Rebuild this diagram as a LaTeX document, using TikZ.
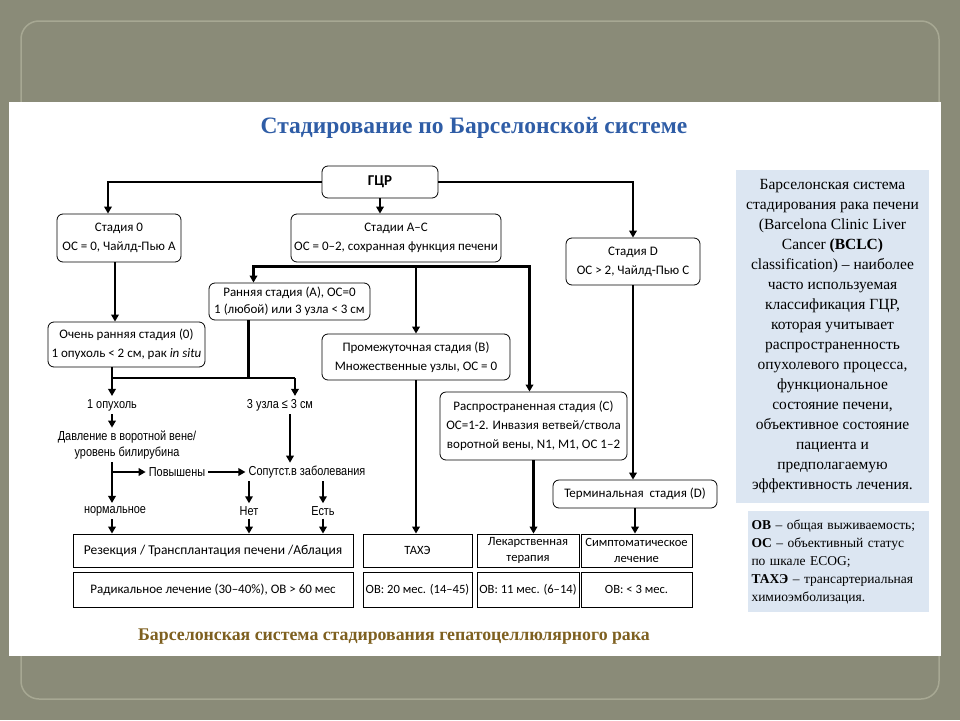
\documentclass[tikz,border=0pt]{standalone}
\usepackage{fontspec}
\setmainfont{Liberation Serif}
\newfontfamily\calibri{Carlito}
\newfontfamily\narrowsans[FakeStretch=0.84]{Liberation Sans}
\usetikzlibrary{arrows.meta,positioning}
\definecolor{slidebg}{HTML}{8A8B78}
\definecolor{slideframe}{HTML}{A7A893}
\definecolor{titleblue}{HTML}{2F5DA6}
\definecolor{captionbrown}{HTML}{7E6020}
\definecolor{panelblue}{HTML}{DCE6F2}

\tikzset{
  stage/.style={draw, rounded corners=6pt, line width=0.8pt, fill=white, align=center,
    font=\calibri\fontsize{13}{19}\selectfont, inner sep=2pt},
  result/.style={draw, line width=0.8pt, fill=white, align=center,
    font=\calibri\fontsize{12.6}{16}\selectfont, inner sep=1pt, minimum height=33pt},
  note/.style={font=\narrowsans\fontsize{13}{16}\selectfont, inner sep=3pt, align=center},
  flow/.style={line width=2.4pt},
  flowarrow/.style={flow, -{Triangle[length=7pt,width=7.5pt]}},
}

\begin{document}
\begin{tikzpicture}[x=1pt,y=-1pt]
  \useasboundingbox (0,0) rectangle (960,720);
  % slide
  \fill[slidebg] (0,0) rectangle (960,720);
  \draw[slideframe, line width=1.5pt, rounded corners=18pt] (21,21) rectangle (939,699);
  \fill[white] (9,102) rectangle (941,656);

  \node[font=\bfseries\fontsize{23.5}{27}\selectfont, text=titleblue] (title) at (474,128)
    {Стадирование по Барселонской системе};
  \node[font=\bfseries\fontsize{17.8}{21}\selectfont, text=captionbrown] (caption) at (394,637)
    {Барселонская система стадирования гепатоцеллюлярного рака};

  % stages
  \node[stage, minimum width=116pt, minimum height=32pt, font=\calibri\bfseries\fontsize{15}{18}\selectfont]
    (hcc) at (380,182) {ГЦР};
  \node[stage, minimum width=124pt, minimum height=48pt] (st0) at (119,238)
    {Стадия 0\\ ОС = 0, Чайлд-Пью А};
  \node[stage, minimum width=210pt, minimum height=48pt] (stac) at (396,238)
    {Стадии А–С\\ ОС = 0–2, сохранная функция печени};
  \node[stage, minimum width=134pt, minimum height=47pt] (std) at (633,261.5)
    {Стадия D\\ ОС > 2, Чайлд-Пью С};
  \node[stage, minimum width=161pt, minimum height=37pt, font=\calibri\fontsize{13}{17}\selectfont]
    (early) at (289.5,301.5) {Ранняя стадия (А), ОС=0\\ 1 (любой) или 3 узла < 3 см};
  \node[stage, minimum width=157pt, minimum height=45pt] (vearly) at (126.5,344.5)
    {Очень ранняя стадия (0)\\ 1 опухоль < 2 см, рак \textit{in situ}};
  \node[stage, minimum width=188pt, minimum height=46pt] (interm) at (416,357)
    {Промежуточная стадия (B)\\ Множественные узлы, ОС = 0};
  \node[stage, minimum width=187pt, minimum height=68pt] (adv) at (533.5,426)
    {Распространенная стадия (С)\\ ОС=1-2. Инвазия ветвей/ствола\\ воротной вены, N1, M1, ОС 1–2};
  \node[stage, minimum width=164pt, minimum height=28pt] (term) at (635,494)
    {Терминальная\ \ стадия (D)};

  % free labels
  \node[note] (one) at (112,405) {1 опухоль};
  \node[note] (three) at (280,405) {3 узла ≤ 3 см};
  \node[note] (pvp) at (127,445) {Давление в воротной вене/\\ уровень билирубина};
  \node[note] (up) at (177,472) {Повышены};
  \node[note] (comorb) at (307,472) {Сопутст.в заболевания};
  \node[note] (norm) at (115,511) {нормальное};
  \node[note] (no) at (249,511) {Нет};
  \node[note] (yes) at (323,511) {Есть};

  % treatments and survival
  \node[result, minimum width=280pt, font=\calibri\fontsize{13.5}{16}\selectfont] (resect) at (213,550.5)
    {Резекция / Трансплантация печени /Аблация};
  \node[result, minimum width=280pt, minimum height=35pt, font=\calibri\fontsize{13}{16}\selectfont]
    (radic) at (213,589.5) {Радикальное лечение (30–40\%), ОВ > 60 мес};
  \node[result, minimum width=109pt] (tace) at (417.5,550.5) {ТАХЭ};
  \node[result, minimum width=109pt, minimum height=35pt] (taceos) at (417.5,589.5)
    {ОВ: 20 мес. (14–45)};
  \node[result, minimum width=102pt] (drug) at (528,550.5) {Лекарственная\\ терапия};
  \node[result, minimum width=102pt, minimum height=35pt] (drugos) at (528,589.5)
    {ОВ: 11 мес. (6–14)};
  \node[result, minimum width=111pt] (sympt) at (636.5,550.5) {Симптоматическое\\ лечение};
  \node[result, minimum width=111pt, minimum height=35pt] (symptos) at (636.5,589.5)
    {ОВ: < 3 мес.};

  % side panels
  \node[fill=panelblue, minimum width=193pt, minimum height=333pt, align=center,
    font=\fontsize{15.5}{20}\selectfont] (about) at (832.5,336.5)
    {Барселонская система\\ стадирования рака печени\\ (Barcelona Clinic Liver\\
     Cancer \textbf{(BCLC)}\\ classification) – наиболее\\ часто используемая\\
     классификация ГЦР,\\ которая учитывает\\ распространенность\\
     опухолевого процесса,\\ функциональное\\ состояние печени,\\
     объективное состояние\\ пациента и\\ предполагаемую\\ эффективность лечения.};
  \node[fill=panelblue, minimum width=181pt, minimum height=101pt, align=left,
    text width=174pt, font=\fontsize{13.5}{18}\selectfont] (legend) at (838.5,561.5)
    {\textbf{ОВ} – общая выживаемость;\\ \textbf{ОС} – объективный статус\\
     по шкале ECOG;\\ \textbf{ТАХЭ} – трансартериальная\\ химиоэмболизация.};

  % connectors
  \coordinate (bar) at ([yshift=-4pt]stac.south);
  \coordinate (jl) at (112,378);
  \coordinate (jr) at (295,378);
  \coordinate (br) at (112,472);

  \draw[flowarrow] (hcc.west) -| ([xshift=-11pt]st0.north);
  \draw[flowarrow] (hcc.east) -| (std.north);
  \draw[flowarrow] (hcc.south) -- (hcc.south |- stac.north);
  \draw[flowarrow] ([xshift=-4pt]st0.south) -- ([xshift=-4pt]st0.south |- vearly.north);

  \draw[flowarrow] (bar) -| ([xshift=-36pt]early.north);
  \draw[flowarrow] (bar) -| ([xshift=-4pt]adv.north);
  \draw[flowarrow] (bar -| interm.north) -- (interm.north);

  \draw[flow] (vearly.south -| jl) -- (jl) -- (jr);
  \draw[flow] ([xshift=-41pt]early.south) -- ([xshift=-41pt]early.south |- jl);
  \draw[flowarrow] (jl) -- (one.north);
  \draw[flowarrow] (jr) -- (jr |- three.north);

  \draw[flowarrow] (one.south) -- (one.south |- pvp.north);
  \draw[flowarrow] (pvp.south -| jl) -- (norm.north -| jl);
  \draw[flowarrow] (br) -- (up.west);
  \draw[flowarrow] (up.east) -- (comorb.west);
  \draw[flowarrow] ([xshift=10pt]three.south) -- ([xshift=10pt]three.south |- comorb.north);
  \draw[flowarrow] (comorb.south -| no) -- (no.north);
  \draw[flowarrow] (comorb.south -| yes) -- (yes.north);

  \draw[flowarrow] (norm.south -| jl) -- (resect.north -| jl);
  \draw[flowarrow] (no.south) -- (no.south |- resect.north);
  \draw[flowarrow] (yes.south) -- (yes.south |- resect.north);

  \draw[flowarrow] (interm.south) -- (interm.south |- tace.north);
  \draw[flowarrow] (adv.south) -- (adv.south |- drug.north);
  \draw[flowarrow] (std.south) -- (std.south |- term.north);
  \draw[flowarrow] (term.south) -- (term.south |- sympt.north);
\end{tikzpicture}
\end{document}
